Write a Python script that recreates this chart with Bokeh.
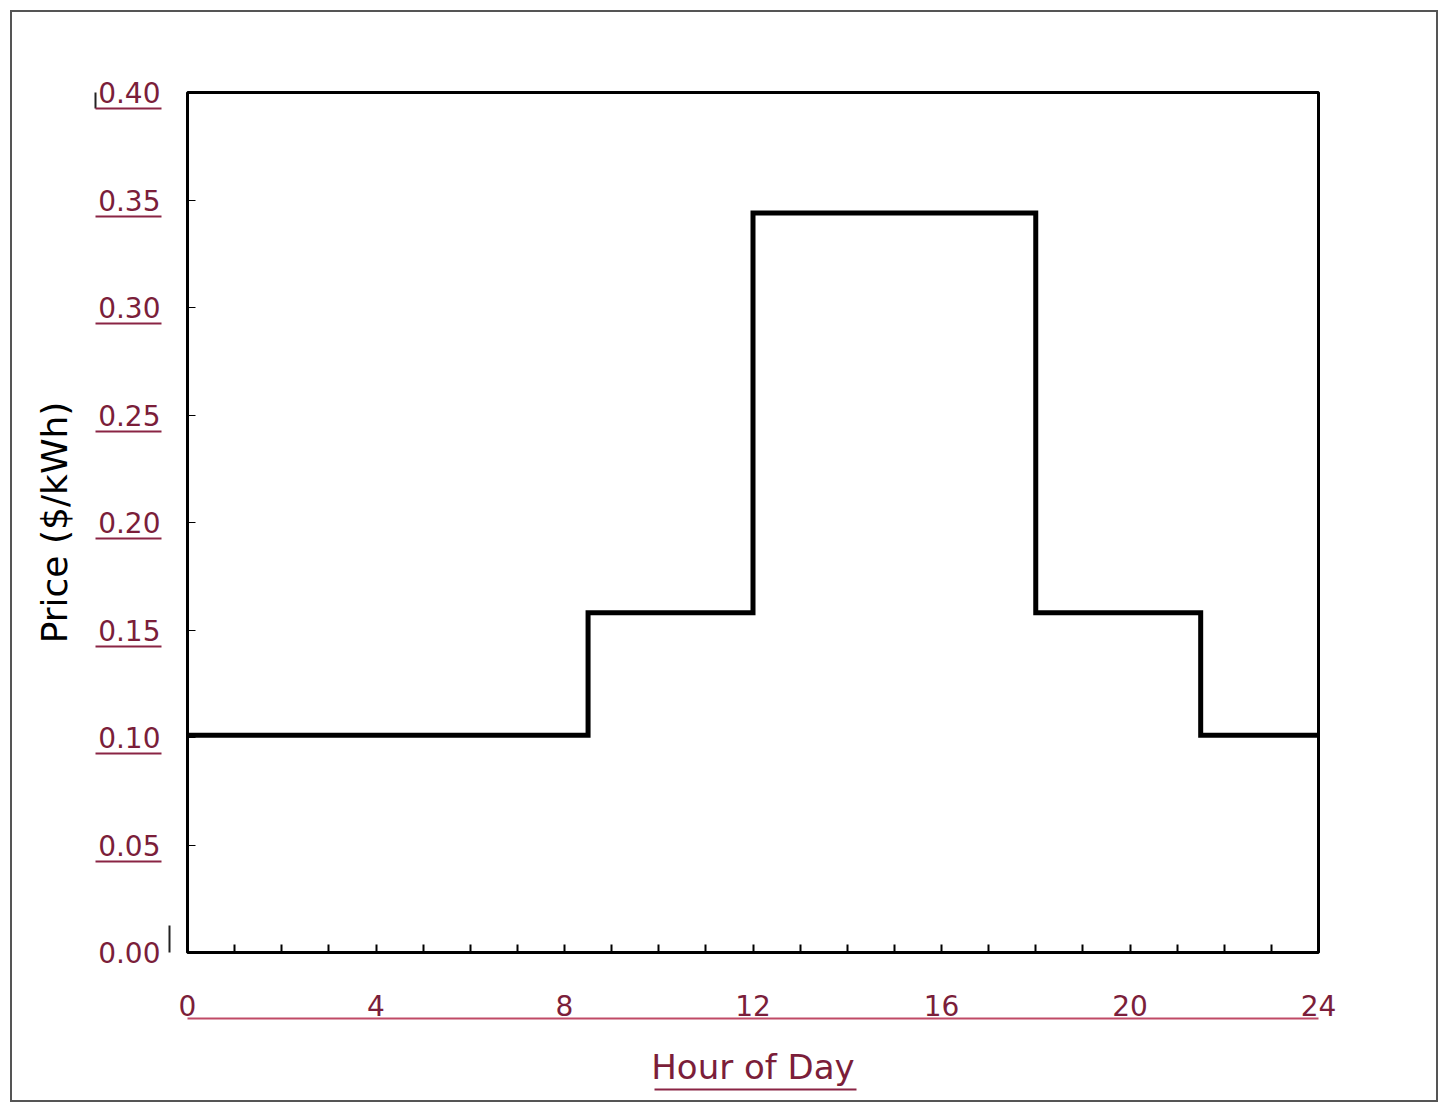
from bokeh.plotting import figure
from bokeh.models import Range1d, LinearAxis, FixedTicker, NumeralTickFormatter
from bokeh.embed import file_html
from bokeh.resources import INLINE

# ---- data ----
hours = [0, 8.5, 12, 18, 21.5, 24]
price = [0.101, 0.158, 0.344, 0.158, 0.101, 0.101]
x_ticks = [0, 4, 8, 12, 16, 20, 24]
x_minor = list(range(25))
y_ticks = [0.00, 0.05, 0.10, 0.15, 0.20, 0.25, 0.30, 0.35, 0.40]

FONT = "DejaVu Sans"
LBL = "#7b1e3a"
ULINE = "#8a2444"
XLINE = "#c04a66"
STRAY = "#222222"

p = figure(width=1428, height=1092, x_range=Range1d(0, 24), y_range=Range1d(0, 0.4),
           x_axis_type=None, y_axis_type=None, toolbar_location=None, output_backend="svg",
           min_border_left=175, min_border_right=122, min_border_top=80, min_border_bottom=152)
p.styles = {"border": "2px solid #555555", "margin": "10px"}
p.outline_line_color = "black"
p.outline_line_width = 3
p.background_fill_color = "white"
p.border_fill_color = "white"

p.step(x=hours, y=price, mode="after", line_width=5, line_color="black", line_join="miter")


def axis(ticks=(), minor=(), **kw):
    ax = LinearAxis(ticker=FixedTicker(ticks=list(ticks), minor_ticks=list(minor)))
    ax.axis_line_color = None
    ax.major_tick_line_color = None
    ax.minor_tick_line_color = None
    ax.major_label_text_color = None
    ax.major_tick_in = 0
    ax.major_tick_out = 0
    ax.minor_tick_in = 0
    ax.minor_tick_out = 0
    for k, v in kw.items():
        setattr(ax, k, v)
    return ax

# ---------- below (stacked from the frame downwards) ----------
# hourly inward ticks; one blank white tick makes it a 16px spacer
p.add_layout(axis(ticks=[0.5], major_tick_line_color="white", major_tick_in=-3, major_tick_out=16,
                  minor=x_minor, minor_tick_line_color="black", minor_tick_line_width=2,
                  minor_tick_in=8), "below")
# x tick labels
p.add_layout(axis(ticks=x_ticks, major_label_standoff=26, major_label_text_font=FONT,
                  major_label_text_font_size="28px", major_label_text_color=LBL), "below")
# long underline of the x tick labels + axis title
p.add_layout(axis(axis_line_color=XLINE, axis_line_width=2,
                  axis_label="Hour of Day", axis_label_standoff=28, axis_label_text_font=FONT,
                  axis_label_text_font_size="34px", axis_label_text_font_style="normal",
                  axis_label_text_color=LBL), "below")
# underline of the axis title
p.add_layout(axis(axis_line_color=ULINE, axis_line_width=2, bounds=(9.9, 14.2)), "below")

# ---------- left (stacked from the frame outwards) ----------
# inward y ticks; one blank white tick makes it an 18px spacer
p.add_layout(axis(ticks=[0.225], major_tick_line_color="white", major_tick_in=-3, major_tick_out=18,
                  minor=y_ticks, minor_tick_line_color="black", minor_tick_line_width=1,
                  minor_tick_in=8), "left")
# stray vertical stroke of the original, near the plot corner
p.add_layout(axis(axis_line_color=STRAY, axis_line_width=2, bounds=(0.0, 0.0126)), "left")
# y tick labels
p.add_layout(axis(ticks=y_ticks, formatter=NumeralTickFormatter(format="0.00"),
                  major_label_standoff=9, major_label_text_font=FONT,
                  major_label_text_font_size="28px", major_label_text_color=LBL), "left")
# underlines of the y tick labels, small stray stroke at "0.40", and the axis title
y_ul = [round(v - 0.0075, 4) for v in y_ticks if v > 0]
p.add_layout(axis(minor=y_ul, minor_tick_line_color=ULINE, minor_tick_line_width=2,
                  minor_tick_in=66, minor_tick_out=0,
                  axis_line_color=STRAY, axis_line_width=2, bounds=(0.3926, 0.4),
                  axis_label="Price ($/kWh)", axis_label_standoff=21, axis_label_text_font=FONT,
                  axis_label_text_font_size="36px", axis_label_text_font_style="normal",
                  axis_label_text_color="black"), "left")

open("out.html", "w").write(file_html(p, INLINE))
